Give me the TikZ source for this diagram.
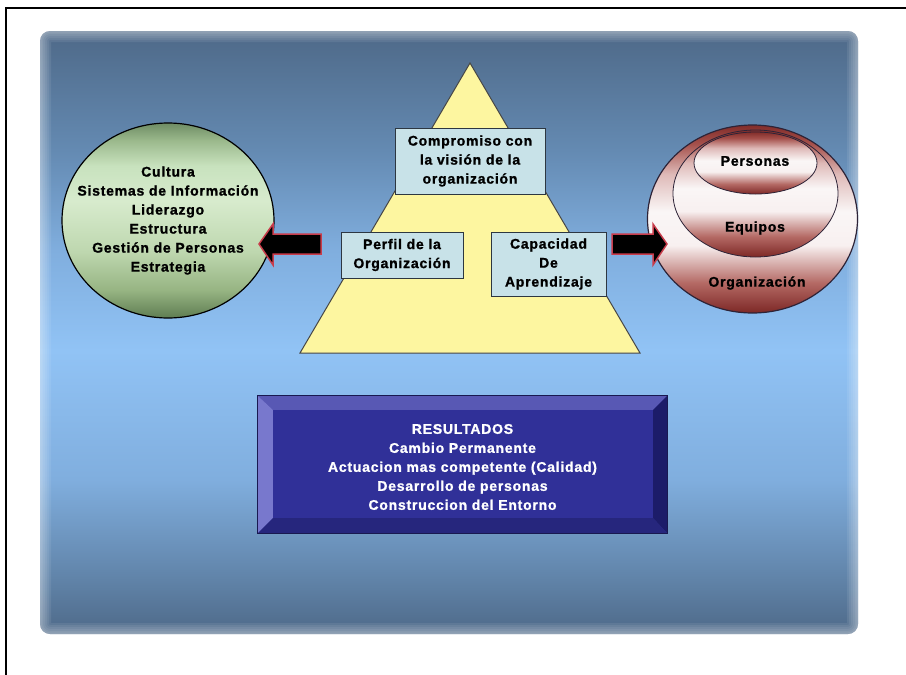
\documentclass[tikz,border=0pt]{standalone}
\usepackage{fontspec}
\setmainfont{Liberation Sans}[LetterSpace=5.5, BoldFeatures={FakeBold=1.2}]
\usetikzlibrary{shapes.geometric,calc}

% colours
\definecolor{panelA}{RGB}{78,105,136}
\definecolor{panelB}{RGB}{96,131,168}
\definecolor{panelC}{RGB}{128,174,222}
\definecolor{panelD}{RGB}{145,195,245}
\definecolor{panelE}{RGB}{100,138,178}
\definecolor{grA}{RGB}{95,125,82}
\definecolor{grB}{RGB}{150,180,130}
\definecolor{grC}{RGB}{190,215,175}
\definecolor{grD}{RGB}{215,235,205}
\definecolor{grE}{RGB}{200,226,190}
\definecolor{grF}{RGB}{155,185,140}
\definecolor{grG}{RGB}{110,140,100}
\definecolor{rdA}{RGB}{125,40,38}
\definecolor{rdB}{RGB}{180,105,100}
\definecolor{rdC}{RGB}{248,240,240}
\definecolor{rdD}{RGB}{250,246,246}
\definecolor{rdE}{RGB}{222,185,183}
\definecolor{rdF}{RGB}{165,80,75}
\definecolor{rdG}{RGB}{130,45,42}
\definecolor{boxfill}{RGB}{200,226,232}
\definecolor{boxline}{RGB}{45,55,65}
\definecolor{pyrfill}{RGB}{253,246,160}
\definecolor{pyrline}{RGB}{70,70,70}
\definecolor{arrowred}{RGB}{200,60,75}
\definecolor{ringline}{RGB}{45,35,55}
\definecolor{resface}{RGB}{48,48,152}
\definecolor{bevtop}{RGB}{88,88,180}
\definecolor{bevleft}{RGB}{120,120,205}
\definecolor{bevright}{RGB}{28,28,105}
\definecolor{bevbot}{RGB}{38,38,125}
\definecolor{resline}{RGB}{25,25,80}

% shadings (the path box maps to 25bp..75bp)
\pgfdeclareverticalshading{panelshade}{100bp}{
  color(0bp)=(panelA); color(25bp)=(panelA); color(29.5bp)=(panelB);
  color(37.8bp)=(panelC); color(48.5bp)=(panelD); color(56.8bp)=(panelC);
  color(65.1bp)=(panelE); color(75bp)=(panelA); color(100bp)=(panelA)}
\pgfdeclareverticalshading{greenshade}{100bp}{
  color(0bp)=(grA); color(25bp)=(grA); color(32bp)=(grB); color(42bp)=(grC);
  color(55bp)=(grD); color(64bp)=(grE); color(70.5bp)=(grF); color(75bp)=(grG);
  color(100bp)=(grG)}
\pgfdeclareverticalshading{redwhite}{100bp}{
  color(0bp)=(rdA); color(25bp)=(rdA); color(33bp)=(rdB); color(43bp)=(rdC);
  color(52bp)=(rdD); color(62bp)=(rdE); color(70bp)=(rdF); color(75bp)=(rdG);
  color(100bp)=(rdG)}

\begin{document}
\begin{tikzpicture}[x=1pt,y=-1pt,
  lbl/.style={font=\bfseries\fontsize{14}{19}\selectfont, align=center, inner sep=0pt},
  pbox/.style={lbl, draw=boxline, line width=1pt, fill=boxfill},
  ring/.style={ellipse, draw=ringline, shading=redwhite, inner sep=0pt},
  blockarrow/.style={fill=black, draw=arrowred, line width=1.5pt, line join=miter}]

  \useasboundingbox (0,0) rectangle (906,675);
  \fill[white] (0,0) rectangle (906,675);
  \draw[line width=2.5pt, line join=miter] (906,8) -- (6,8) -- (6,675);

  % background panel with soft lighter rim
  \shade[shading=panelshade, rounded corners=10pt] (40,31) rectangle (858,634);
  \begin{scope}
    \clip[rounded corners=10pt] (40,31) rectangle (858,634);
    \foreach \w in {3,6,10,14,18,22}
      \draw[white, opacity=0.08, line width=\w pt, rounded corners=10pt]
        (40,31) rectangle (858,634);
  \end{scope}

  % left circle
  \node[ellipse, draw=black, line width=1.2pt, shading=greenshade,
        minimum width=212pt, minimum height=195pt, inner sep=0pt] (cult) at (168,220.5) {};
  \node[lbl] (culttext) at (cult.center)
    {Cultura\\Sistemas de Información\\Liderazgo\\Estructura\\Gestión de Personas\\Estrategia};

  % pyramid
  \coordinate (apex) at (470,63);
  \coordinate (baseL) at (300,353);
  \coordinate (baseR) at (640,353);
  \draw[fill=pyrfill, draw=pyrline, line width=1pt, line join=miter]
    (apex) -- (baseR) -- (baseL) -- cycle;

  \node[pbox, minimum width=150pt, minimum height=66pt] (comp) at (470,161)
    {Compromiso con\\la visión de la\\organización};
  \node[pbox, minimum width=122pt, minimum height=46pt] (perf) at (402,255)
    {Perfil de la\\Organización};
  \node[pbox, minimum width=115pt, minimum height=64pt] (cap) at (548.5,264)
    {Capacidad\\De\\Aprendizaje};

  % right nested ellipses
  \node[ring, line width=1.2pt, minimum width=210pt, minimum height=188pt] (org) at (752.5,219) {};
  \node[ring, line width=0.8pt, minimum width=165pt, minimum height=127pt] (eq) at (755.5,193.5) {};
  \node[ring, line width=0.8pt, minimum width=123pt, minimum height=62pt] (pers) at (755.5,163) {};
  \node[lbl] (perstext) at (755,161) {Personas};
  \node[lbl] (eqtext) at (755,228) {Equipos};
  \node[lbl] (orgtext) at (757,283) {Organización};

  % block arrows
  \coordinate (lTail) at (321,244);
  \coordinate (lTip) at (259,244);
  \draw[blockarrow] ($(lTail)+(0,-10)$) -- ($(lTip)+(14,-10)$) -- ($(lTip)+(14,-20)$)
    -- (lTip) -- ($(lTip)+(14,21)$) -- ($(lTip)+(14,10)$) -- ($(lTail)+(0,10)$) -- cycle;
  \coordinate (rTail) at (612,244);
  \coordinate (rTip) at (667,244);
  \draw[blockarrow] ($(rTail)+(0,-10)$) -- ($(rTip)+(-14,-10)$) -- ($(rTip)+(-14,-20)$)
    -- (rTip) -- ($(rTip)+(-14,21)$) -- ($(rTip)+(-14,10)$) -- ($(rTail)+(0,10)$) -- cycle;

  % results panel with bevel
  \node[fill=resface, minimum width=409pt, minimum height=137pt, inner sep=0pt] (res) at (462.5,464.5) {};
  \coordinate (oNW) at (res.north west);
  \coordinate (oNE) at (res.north east);
  \coordinate (oSW) at (res.south west);
  \coordinate (oSE) at (res.south east);
  \coordinate (iNW) at ($(oNW)+(15,14)$);
  \coordinate (iNE) at ($(oNE)+(-14,14)$);
  \coordinate (iSW) at ($(oSW)+(15,-15)$);
  \coordinate (iSE) at ($(oSE)+(-14,-15)$);
  \fill[bevtop] (oNW) -- (oNE) -- (iNE) -- (iNW) -- cycle;
  \fill[bevleft] (oNW) -- (iNW) -- (iSW) -- (oSW) -- cycle;
  \fill[bevright] (oNE) -- (oSE) -- (iSE) -- (iNE) -- cycle;
  \fill[bevbot] (oSW) -- (iSW) -- (iSE) -- (oSE) -- cycle;
  \draw[resline, line width=0.8pt] (oNW) rectangle (oSE);
  \node[lbl, text=white] (restext) at (462.5,467)
    {RESULTADOS\\Cambio Permanente\\Actuacion mas competente (Calidad)\\Desarrollo de personas\\Construccion del Entorno};
\end{tikzpicture}
\end{document}
